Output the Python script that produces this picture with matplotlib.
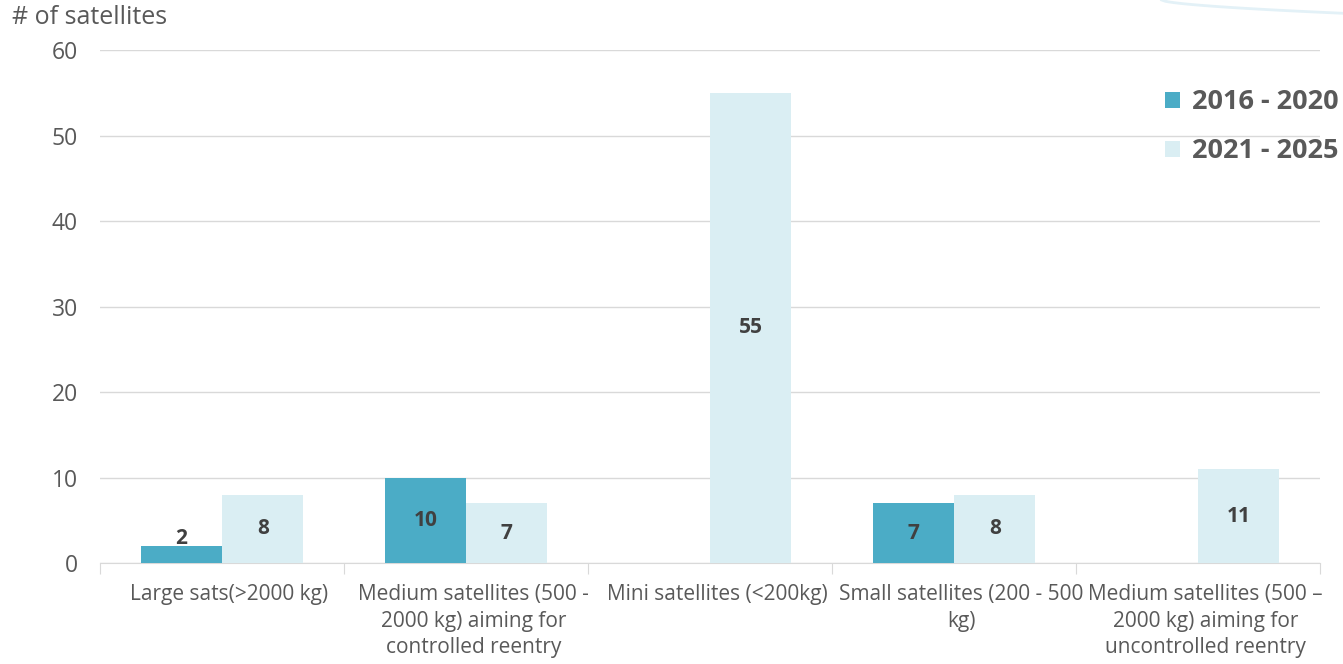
import matplotlib.pyplot as plt
import numpy as np

categories = ['Large sats(>2000 kg)',
              'Medium satellites (500 -\n2000 kg) aiming for\ncontrolled reentry',
              'Mini satellites (<200kg)',
              'Small satellites (200 - 500\nkg)',
              'Medium satellites (500 \u2013\n2000 kg) aiming for\nuncontrolled reentry']
series_names = ['2016 - 2020', '2021 - 2025']
vals_2016 = [2, 10, 0, 7, 0]
vals_2021 = [8, 7, 55, 8, 11]
yticks = [0, 10, 20, 30, 40, 50, 60]

plt.rcParams['font.family'] = ['Open Sans', 'DejaVu Sans']
gray = '#595959'

fig = plt.figure(figsize=(13.43, 6.64), dpi=100)
ax = fig.add_axes([0.0745, 0.152, 0.9085, 0.7727])

x = np.arange(len(categories))
w = 1 / 3
b1 = ax.bar(x - w / 2, vals_2016, w, color='#4BACC6', label=series_names[0])
b2 = ax.bar(x + w / 2, vals_2021, w, color='#DAEEF3', label=series_names[1])

for bars, vals in ((b1, vals_2016), (b2, vals_2021)):
    for r, v in zip(bars, vals):
        if v == 0:
            continue
        cx = r.get_x() + r.get_width() / 2
        if v < 4:
            ax.text(cx, v - 0.4, str(v), ha='center', va='bottom', fontsize=15,
                    fontweight='bold', color='#404040')
        else:
            ax.text(cx, v / 2, str(v), ha='center', va='center', fontsize=15,
                    fontweight='bold', color='#404040')

ax.set_xlim(-0.5, len(categories) - 0.5)
ax.set_ylim(0, 60)
ax.set_yticks(yticks)
ax.yaxis.grid(True, color='#d9d9d9', linewidth=1)
ax.set_axisbelow(True)
for s in ['top', 'right', 'left']:
    ax.spines[s].set_visible(False)
ax.spines['bottom'].set_color('#d9d9d9')
ax.spines['bottom'].set_zorder(0.5)
ax.tick_params(axis='y', length=0, pad=16, labelsize=16.5, labelcolor=gray)

ax.set_xticks(np.arange(-0.5, len(categories), 1.0))
ax.set_xticklabels([])
ax.tick_params(axis='x', which='major', length=8, color='#d9d9d9', direction='out')
ax.set_xticks(x + 0.03, minor=True)
ax.set_xticklabels(categories, minor=True, linespacing=1.35)
ax.tick_params(axis='x', which='minor', length=0, pad=15, labelsize=15, labelcolor=gray)

fig.text(0.009, 0.973, '# of satellites', fontsize=18, color=gray, va='center', ha='left')

leg = fig.legend(handles=[b1, b2], loc='upper right', bbox_to_anchor=(1.015, 0.902),
                 frameon=False, handlelength=0.55, handleheight=0.55, handletextpad=0.45,
                 labelspacing=0.85, prop={'size': 19.5, 'weight': 'bold'})
for t in leg.get_texts():
    t.set_color(gray)

# faint decorative arc in the top-right corner
t = np.linspace(0, 1, 50)
fig.add_artist(plt.Line2D(0.865 + 0.135 * t, 1 - 0.02 * t ** 0.6, transform=fig.transFigure,
                          color='#e3f1f7', linewidth=2))

fig.savefig('out.png', dpi=100)
